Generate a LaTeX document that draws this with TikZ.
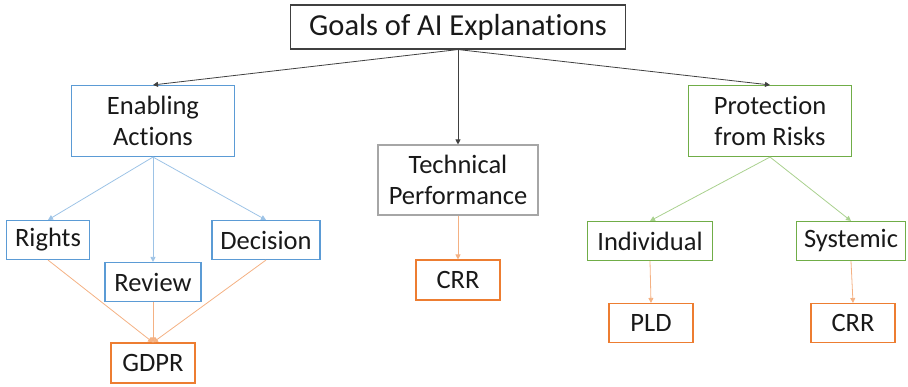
\documentclass[tikz,border=0pt]{standalone}
\usepackage{fontspec}
\setmainfont{Carlito}[Ligatures=NoCommon]
\usetikzlibrary{positioning,arrows.meta}
\definecolor{rootgray}{HTML}{404040}
\definecolor{techgray}{HTML}{A6A6A6}
\definecolor{boxblue}{HTML}{5B9BD5}
\definecolor{lineblue}{HTML}{9DC3E6}
\definecolor{boxgreen}{HTML}{70AD47}
\definecolor{linegreen}{HTML}{A9D18E}
\definecolor{boxorange}{HTML}{ED7D31}
\definecolor{lineorange}{HTML}{F4B183}

\begin{document}
\begin{tikzpicture}[
        x=1pt, y=-1pt,
        block/.style={draw, line width=1.1pt, minimum height=39pt, inner sep=2pt,
          font=\fontsize{26.5}{31}\selectfont, align=center, text=black!90},
        rootblock/.style={block, draw=rootgray, minimum height=44pt,
          font=\fontsize{30.5}{36}\selectfont},
        blueblock/.style={block, draw=boxblue},
        greenblock/.style={block, draw=boxgreen},
        greyblock/.style={block, draw=techgray},
        orangeblock/.style={block, draw=boxorange},
        tip/.style={-{Triangle[length=5pt, width=5pt]}, line width=0.8pt},
        rootarr/.style={tip, rootgray},
        bluearr/.style={tip, lineblue},
        greenarr/.style={tip, linegreen},
        orangearr/.style={tip, lineorange},
      ]
        \useasboundingbox (0,0) rectangle (908,387);

        % Root
        \node[rootblock, minimum width=335pt] (goals) at (458, 27) {Goals of AI Explanations};

        % Level 1
        \node[blueblock, minimum width=163pt, minimum height=71pt] (enab) at (153, 121) {Enabling\\Actions};
        \node[greyblock, minimum width=160pt, minimum height=70pt] (tech) at (458, 180) {Technical\\Performance};
        \node[greenblock, minimum width=163pt, minimum height=71pt] (prot) at (770, 121) {Protection\\from Risks};
        \draw[rootarr] (goals.south) -- (enab.north);
        \draw[rootarr] (goals.south) -- (tech.north);
        \draw[rootarr] (goals.south) -- (prot.north);

        % Enabling actions
        \node[blueblock, minimum width=83pt] (rights) at (48, 240) {Rights};
        \node[blueblock, minimum width=96pt] (review) at (153, 282) {Review};
        \node[blueblock, minimum width=108pt] (decis) at (266, 240) {Decision};
        \node[orangeblock, minimum width=84pt, minimum height=40pt] (gdpr) at (153, 363) {GDPR};
        \draw[bluearr] (enab.south) -- (rights.north);
        \draw[bluearr] (enab.south) -- (review.north);
        \draw[bluearr] (enab.south) -- (decis.north);
        \draw[orangearr] (rights.south) -- (gdpr.north);
        \draw[orangearr] (review.south) -- (gdpr.north);
        \draw[orangearr] (decis.south) -- (gdpr.north);

        % Technical performance
        \node[orangeblock, minimum width=84pt, minimum height=40pt] (crra) at (458, 280) {CRR};
        \draw[orangearr] (tech.south) -- (crra.north);

        % Protection from risks
        \node[greenblock, minimum width=125pt] (indiv) at (650, 241) {Individual};
        \node[greenblock, minimum width=109pt] (syst) at (851, 241) {Systemic};
        \node[orangeblock, minimum width=84pt] (pld) at (651, 323) {PLD};
        \node[orangeblock, minimum width=84pt] (crrb) at (853, 323) {CRR};
        \draw[greenarr] (prot.south) -- (indiv.north);
        \draw[greenarr] (prot.south) -- (syst.north);
        \draw[orangearr] (indiv.south) -- (pld.north);
        \draw[orangearr] (syst.south) -- (crrb.north);
      \end{tikzpicture}
\end{document}
